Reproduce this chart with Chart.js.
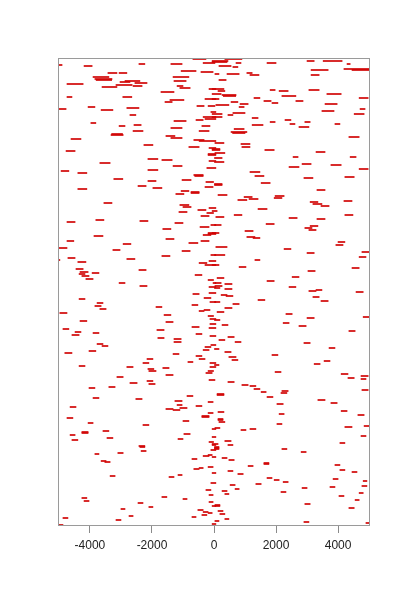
<!DOCTYPE html>
<html><head><meta charset="utf-8">
<script src="https://cdn.jsdelivr.net/npm/chart.js@4/dist/chart.umd.min.js"></script>
<style>html,body{margin:0;padding:0;background:#fff}#wrap{width:400px;height:600px}</style>
</head><body><div id="wrap"><canvas id="c" width="400" height="600"></canvas></div>
<script>
// x tick labels and axis range
const xTickValues = [-4000, -2000, 0, 2000, 4000];
const xRange = [-5030, 5030];
const yRange = [0, 468];

// each segment: row index, start, end
const segRow = [
461,460,462,462,467,463,455,454,453,453,449,447,446,449,445,445,444,443,442,441,439,440,440,438,437,434,429,429,426,427,424,417,419,416,418,420,420,414,411,409,407,406,405,403,401,400,398,400,395,391,392,395,
467,465,464,463,463,465,465,462,460,459,456,457,456,453,452,452,451,451,446,437,435,436,435,436,431,430,432,430,432,427,428,425,425,428,424,422,423,421,419,422,415,417,413,412,411,409,408,412,406,404,402,404,401,399,402,397,394,393,
390,388,387,386,385,381,379,378,375,372,371,367,366,365,363,360,358,355,356,353,351,350,347,346,345,344,340,338,339,337,335,333,334,332,323,321,319,316,318,314,313,
383,382,379,377,376,376,389,374,373,368,369,369,364,362,361,359,357,354,350,348,349,341,342,343,336,331,329,330,326,327,328,324,322,320,325,317,315,
310,306,304,305,303,299,297,301,293,292,290,291,287,285,285,283,282,278,276,275,271,268,267,270,266,264,263,265,261,257,256,254,253,252,250,247,251,246,243,240,243,239,
311,309,308,307,311,301,302,298,300,296,293,295,289,288,284,281,279,277,274,273,271,269,266,261,259,258,255,249,248,245,243,242,240,239,238,237,235,236,
232,233,227,228,223,220,217,219,221,224,215,216,213,211,210,205,204,207,202,199,197,194,191,193,196,198,192,188,187,184,190,182,180,181,179,176,175,173,172,170,167,167,164,163,160,159,157,158,163,159,
231,230,234,229,226,225,224,222,218,214,212,208,206,209,201,203,200,195,189,186,184,183,177,178,174,171,169,166,165,162,161,
155,155,153,151,149,145,146,143,142,139,138,128,127,130,125,124,119,121,120,118,117,116,113,109,110,108,105,103,101,97,93,94,95,91,92,88,86,87,84,89,80,81,
154,144,152,148,150,147,141,140,137,134,135,133,132,131,129,136,126,123,122,114,115,112,111,106,107,104,102,98,96,97,99,100,90,85,82,81,83,79,
79,75,76,73,72,70,71,69,67,65,64,59,58,57,53,50,49,51,43,36,31,28,25,29,27,24,23,19,17,20,16,14,13,11,10,9,8,6,1,2,
78,77,77,74,68,66,62,63,60,61,56,54,55,52,48,46,44,42,47,45,41,37,39,40,38,35,32,34,33,30,26,22,20,21,18,15,12,7,4,5,3,0
];
const segStart = [
-5000,-4190,-2420,-1390,-680,-350,-1060,-420,-3420,-3060,-3900,-3840,-3800,-1320,-1290,-2870,-3030,-2550,-4740,-3160,-3610,-2610,-1190,-1100,-160,-1710,-4740,-2940,-1420,-290,-1580,-5000,-4060,-3640,-2810,-550,-190,-100,-2710,-350,-290,-580,-1290,-3970,-2580,-3060,-1390,-390,-2610,-3320,-3300,-480,
350,-60,-60,710,1710,3000,3520,4290,160,610,3130,4190,4450,1060,30,420,1160,3130,160,-60,130,1810,2100,3060,260,300,-60,2190,3640,-60,1290,1610,2640,4680,550,840,1870,60,810,3580,3480,4710,610,-60,450,-60,1230,4520,2290,1810,2450,2930,1230,2740,3900,650,550,600,
-1550,-1390,-4610,-650,-480,-2260,-810,-160,-4770,-190,-190,-2130,-1680,-160,-3680,-1320,-230,-4930,-2130,-4390,-650,-620,-3230,-1030,-2130,-260,-2450,-1970,-290,-4390,-1060,-740,-740,-1230,-3550,-1100,-1000,-520,-160,-1130,-230,
30,870,900,-60,-60,1640,4350,3290,30,0,2550,4390,0,2840,3770,2420,4680,1160,1320,2900,4220,0,0,1520,3320,130,970,1970,770,1130,1940,3100,3190,3450,4190,1420,-60,
-420,-3810,-4740,-2390,-1260,-450,-1650,-100,-190,-190,-3870,-350,-1550,-420,-4740,-810,-2930,-5000,-3260,-1030,-100,-4710,-2810,-1680,-5030,-4390,-480,-160,-290,-4450,-2420,-4320,-3930,-4350,-4260,-4130,-610,-190,-3060,-2390,-30,-160,
650,60,2420,3320,4220,0,1680,2930,3100,3060,-60,1000,1060,1260,4000,3930,60,2260,4770,3000,0,4680,1320,-60,810,4450,3030,2520,100,1710,30,350,30,2420,0,350,3060,3290,
-680,-160,-4350,-320,-3770,-3840,-3680,-1870,-710,-130,-480,-320,-4970,-1610,-190,-4320,-1550,-130,-130,-710,-4870,-4480,-4580,-3900,-1840,-160,-580,-1810,-1290,-1290,-130,-3770,-3610,-100,-290,-350,-4030,-4810,-1320,-580,-480,-2160,-840,-2290,-4350,-2810,-2130,-1650,-130,-130,
230,390,4580,3190,1420,3450,0,610,350,100,2320,3000,0,4810,260,2230,2740,4350,450,160,680,2900,0,3710,350,1870,480,580,3550,3230,0,
-2100,-190,-260,-1550,-3130,-2160,-160,-2710,-2100,-3390,-4030,-3900,-2520,-870,-1260,-190,-4640,-1190,-580,-1100,-1550,-1320,-190,-390,-390,-4740,-1000,-4060,-2290,-60,-4260,-4260,-3580,-4640,-970,-3450,-4580,-1160,-160,-60,-2420,-60,
1970,450,4100,4320,4740,4740,900,1160,1290,1520,2190,2160,100,100,1710,4770,3350,3770,2030,130,4100,2100,4640,130,130,160,2030,30,870,1160,4220,4840,4740,350,-60,450,4060,0,
-2390,-2350,-100,-3100,-3840,-350,-190,-60,-710,-3640,-3520,-190,-480,-650,-60,-3350,-1450,-1160,-100,-260,-160,-4260,-4190,-1680,-1000,-160,-2450,-2100,-3000,-60,-520,-350,-190,-390,-2740,-710,-4870,-3160,-5000,-60,
0,0,2190,2810,260,480,1610,1610,1100,3900,4060,4450,450,770,1710,1940,2230,1350,3840,4810,520,680,3740,4770,2840,260,350,2160,4680,4030,4550,2930,30,30,4350,130,190,350,2900,30,4900,4900
];
const segEnd = [
-4900,-3930,-2230,-1030,-260,30,-580,-30,-3130,-2810,-3390,-3290,-3300,-810,-900,-2390,-2710,-2160,-4220,-2640,-3130,-2320,-1000,-770,60,-1290,-4580,-2650,-970,60,-1350,-4770,-3840,-3260,-2420,-320,30,60,-2520,60,60,-350,-900,-3810,-2350,-2870,-1030,-130,-2290,-2930,-2950,-160,
900,450,420,870,2000,3230,4130,4390,550,770,3680,5000,5000,1230,160,810,1450,3390,390,320,350,1970,2390,3390,710,700,230,2640,4100,160,1480,1840,2870,4970,770,1100,2060,480,970,3970,3870,4870,1000,260,610,260,1420,4840,2480,1970,2610,3100,1580,3060,4060,970,1060,1000,
-1260,-1030,-4290,-320,60,-1970,-480,60,-4480,60,60,-1810,-1350,60,-3350,-1030,60,-4680,-1810,-4100,-350,-350,-2940,-740,-1870,0,-2190,-1680,-30,-4100,-810,-480,-480,-970,-3290,-810,-740,-260,60,-870,0,
320,1160,1160,190,190,1940,4680,3580,350,260,2710,4580,320,3130,4100,2740,4970,1480,1610,3190,4520,260,260,1810,3580,420,1230,2260,1060,1420,2190,3350,3480,3710,4450,1710,100,
-160,-3550,-4480,-2130,-1000,-160,-1390,60,60,60,-3580,-100,-1290,-160,-4520,-520,-2680,-4740,-3030,-770,60,-4480,-2550,-1420,-4970,-4130,-230,60,60,-4220,-2190,-4060,-3710,-4160,-4030,-3900,-390,0,-2870,-2160,60,60,
900,320,2680,3580,4480,230,1940,3160,3350,3290,160,1260,1320,1480,4220,4160,420,2480,5000,3230,350,4900,1480,160,1030,4680,3260,2740,320,1940,230,580,260,2640,190,580,3290,3480,
-480,60,-4160,-100,-3580,-3640,-3480,-1680,-520,60,-320,-130,-4740,-1390,0,-4100,-1320,60,60,-480,-4680,-4290,-4350,-3710,-1610,60,-390,-1610,-1060,-1060,60,-3580,-3420,60,-100,-160,-3810,-4580,-1130,-390,-290,-1970,-680,-2100,-4160,-2610,-1940,-1450,60,60,
420,610,4810,3390,1640,3680,190,810,580,320,2520,3230,190,5000,450,2420,2970,4550,650,350,870,3100,160,3900,550,2060,710,770,3740,3420,160,
-1870,0,-60,-1320,-2930,-1970,30,-2480,-1900,-3190,-3840,-3710,-2320,-680,-1030,-30,-4450,-1030,-390,-870,-1320,-1100,-30,-160,-160,-4550,-810,-3900,-2100,60,-4060,-4060,-3390,-4480,-770,-3260,-4390,-1000,0,60,-2230,60,
2160,650,4320,4520,4970,4900,1100,1350,1480,1680,2390,2350,320,320,1900,4970,3580,3970,2230,320,4290,2260,4840,290,290,350,2190,190,1030,1350,4450,5000,4900,550,130,610,4220,160,
-2230,-2190,60,-2930,-3710,-160,-60,60,-550,-3480,-3350,-30,-350,-480,60,-3190,-1290,-1030,60,-100,-30,-4100,-4030,-1520,-870,-30,-2290,-1970,-2870,60,-350,-190,-60,-230,-2610,-580,-4710,-3000,-4870,60,
160,160,2350,2970,420,650,1770,1770,1260,4060,4220,4610,610,940,1870,2100,2390,1520,4000,4930,680,810,3900,4930,3000,420,480,2320,4810,4190,4680,3100,190,190,4520,290,350,480,3060,160,5030,5030
];

if (segRow.length !== segStart.length || segRow.length !== segEnd.length) {
  console.error('length mismatch', segRow.length, segStart.length, segEnd.length);
}

const segData = segRow.map((r, i) => ({ y: r, x: [segStart[i], segEnd[i]] }));

const boxPlugin = {
  id: 'box',
  afterDraw(chart) {
    const a = chart.chartArea, c = chart.ctx;
    c.save();
    c.strokeStyle = '#9a9a9a';
    c.lineWidth = 1;
    c.strokeRect(Math.round(a.left) + 0.5, Math.round(a.top) + 0.5,
      Math.round(a.right - a.left) - 1, Math.round(a.bottom - a.top) - 1);
    c.restore();
  }
};

new Chart(document.getElementById('c'), {
  type: 'bar',
  data: {
    datasets: [{
      data: segData,
      backgroundColor: '#d00000',
      borderWidth: 0,
      barThickness: 1.0
    }]
  },
  options: {
    indexAxis: 'y',
    responsive: false,
    animation: false,
    devicePixelRatio: 1,
    layout: { padding: { left: 58, right: 30, top: 58, bottom: 0 } },
    plugins: { legend: { display: false }, tooltip: { enabled: false } },
    scales: {
      x: {
        type: 'linear',
        min: xRange[0],
        max: xRange[1],
        afterBuildTicks: (s) => { s.ticks = xTickValues.map(v => ({ value: v })); },
        afterFit: (s) => { s.height = 74; },
        grid: { drawOnChartArea: false, drawTicks: true, tickLength: 7, color: '#8a8a8a' },
        border: { display: false },
        ticks: {
          color: '#222',
          font: { family: 'Liberation Sans, Arial, sans-serif', size: 12 },
          padding: 5,
          maxRotation: 0,
          autoSkip: false,
          callback: (v) => String(v)
        }
      },
      y: { type: 'linear', min: yRange[0], max: yRange[1], offset: false, display: false }
    }
  },
  plugins: [boxPlugin]
});
</script>
</body></html>
